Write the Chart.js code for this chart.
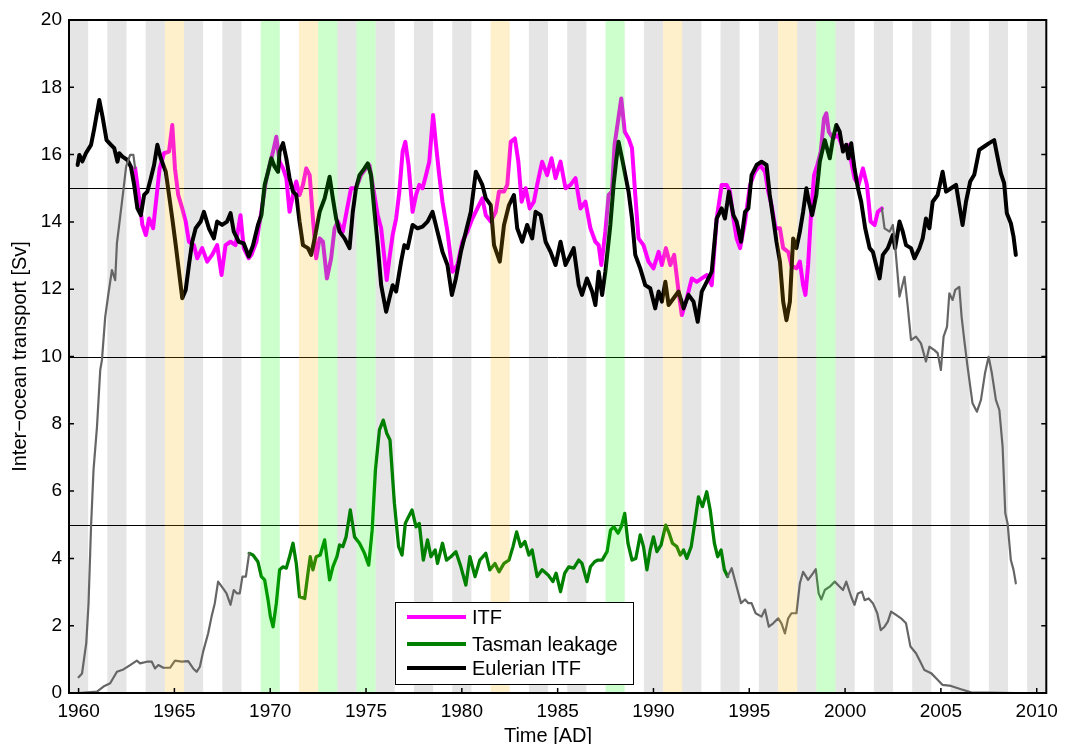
<!DOCTYPE html>
<html>
<head>
<meta charset="utf-8">
<title>Inter-ocean transport</title>
<script src="https://cdn.jsdelivr.net/npm/chart.js@4.4.1/dist/chart.umd.min.js"></script>
<style>
    html, body { margin: 0; padding: 0; background: #fff; }
    #wrap { width: 1065px; height: 744px; }
</style>
</head>
<body>
<div id="wrap"><canvas id="itfChart" width="1065" height="744"></canvas></div>
<script>
// Inter-ocean transport 1960-2009 (Sv)

// Axis ticks and reference lines
const xTicks = [1960, 1965, 1970, 1975, 1980, 1985, 1990, 1995, 2000, 2005, 2010];
const refLines = [5, 10, 15];

// Year shading
const grayYears = [1960, 1962, 1964, 1966, 1968, 1974, 1976, 1978, 1980, 1984, 1986, 1990, 1992, 1994, 1996, 1998, 2000, 2002, 2004, 2006, 2008, 2010];
const elNinoYears = [1965, 1972, 1982, 1991, 1997];
const laNinaYears = [1970, 1973, 1975, 1988, 1999];

// ITF (magenta), with gray spin-up / spin-down parts
const itfPreT = [1960.0, 1960.18, 1960.4, 1960.52, 1960.65, 1960.78, 1960.96, 1961.13, 1961.22, 1961.39, 1961.56, 1961.74, 1961.91, 1962.0, 1962.17, 1962.34, 1962.48, 1962.69, 1962.86, 1962.95];
const itfPreV = [0.47, 0.58, 1.48, 2.66, 4.94, 6.63, 7.91, 9.6, 9.9, 11.18, 11.88, 12.57, 12.27, 13.36, 14.15, 14.95, 15.64, 15.99, 15.99, 15.6];

const itfT = [1962.95, 1963.16, 1963.33, 1963.51, 1963.68, 1963.89, 1964.06, 1964.23, 1964.46, 1964.72, 1964.89, 1965.03, 1965.2, 1965.41, 1965.59, 1965.76, 1966.02, 1966.19, 1966.45, 1966.71, 1966.97, 1967.23, 1967.46, 1967.67, 1967.93, 1968.19, 1968.45, 1968.62, 1968.88,
    1969.02, 1969.28, 1969.54, 1969.77, 1969.97, 1970.15, 1970.32, 1970.49, 1970.67, 1970.84, 1971.01, 1971.19, 1971.36, 1971.53, 1971.71, 1971.88, 1972.06, 1972.23, 1972.4, 1972.58, 1972.75, 1972.96, 1973.18, 1973.36, 1973.53, 1973.79,
    1974.05, 1974.22, 1974.48, 1974.74, 1975.0, 1975.18, 1975.35, 1975.61, 1975.79, 1975.96, 1976.08, 1976.22, 1976.39, 1976.57, 1976.74, 1976.91, 1977.05, 1977.22, 1977.43, 1977.61, 1977.78, 1977.95, 1978.13, 1978.3, 1978.5, 1978.65, 1978.82, 1978.99,
    1979.25, 1979.51, 1979.77, 1980.03, 1980.29, 1980.55, 1980.81, 1981.07, 1981.25, 1981.51, 1981.77, 1981.94, 1982.2, 1982.37, 1982.55, 1982.77, 1982.95, 1983.12, 1983.33, 1983.54, 1983.76, 1983.93, 1984.19, 1984.45, 1984.68, 1984.89,
    1985.15, 1985.41, 1985.67, 1985.93, 1986.19, 1986.45, 1986.71, 1986.97, 1987.14, 1987.28, 1987.49, 1987.66, 1987.83, 1987.97, 1988.15, 1988.32, 1988.5, 1988.7, 1988.88, 1989.05, 1989.22, 1989.48, 1989.74,
    1990.0, 1990.27, 1990.44, 1990.65, 1990.88, 1991.08, 1991.31, 1991.48, 1991.74, 1992.0, 1992.26, 1992.52, 1992.78, 1993.04, 1993.3, 1993.56, 1993.82, 1993.99, 1994.17, 1994.34, 1994.52, 1994.78,
    1995.04, 1995.3, 1995.56, 1995.82, 1995.99, 1996.16, 1996.37, 1996.6, 1996.77, 1997.03, 1997.2, 1997.46, 1997.64, 1997.81, 1997.93, 1998.07, 1998.21, 1998.38, 1998.55, 1998.73, 1998.9,
    1999.02, 1999.15, 1999.37, 1999.63, 1999.89, 2000.12, 2000.32, 2000.49, 2000.7, 2000.93, 2001.14, 2001.33, 2001.54, 2001.71, 2001.92];
const itfV = [15.6, 14.7, 13.91, 13.61, 14.1, 13.81, 14.7, 15.59, 16.04, 16.09, 16.88, 15.59, 14.8, 14.4, 14.01, 13.41, 13.31, 12.92, 13.22, 12.82, 13.02, 13.31, 12.42, 13.31, 13.41, 13.31, 14.2, 13.22, 12.92,
    13.02, 13.41, 14.3, 15.2, 15.69, 16.09, 16.53, 15.79, 15.59, 15.3, 14.3, 14.8, 15.2, 14.8, 15.1, 15.59, 15.39, 14.1, 12.92, 13.51, 13.41, 12.32, 12.92, 13.81, 14.01, 13.71,
    14.5, 15.0, 15.0, 15.39, 15.59, 15.69, 15.1, 14.2, 13.81, 12.92, 12.27, 12.92, 13.61, 14.1, 14.9, 16.09, 16.38, 15.69, 14.3, 14.8, 15.1, 15.0, 15.39, 15.79, 17.18, 16.3, 15.39, 14.6,
    13.71, 12.52, 12.72, 13.41, 13.71, 14.1, 14.4, 14.7, 14.2, 14.01, 14.3, 14.9, 14.9, 15.1, 16.38, 16.48, 15.79, 14.6, 15.0, 14.4, 14.6, 15.1, 15.79, 15.39, 15.89, 15.3,
    15.79, 15.0, 15.1, 15.3, 14.4, 14.6, 13.81, 13.41, 13.31, 12.72, 13.71, 14.8, 14.9, 16.29, 17.0, 17.67, 16.68, 16.48, 16.19, 14.8, 13.51, 13.31, 12.82,
    12.62, 13.11, 12.72, 13.22, 12.72, 13.02, 11.93, 11.23, 11.73, 12.32, 12.22, 12.32, 12.42, 12.12, 14.1, 15.1, 15.1, 14.9, 14.1, 13.51, 13.22, 14.01,
    15.1, 15.49, 15.69, 15.49, 14.9, 14.5, 13.81, 13.81, 13.22, 13.11, 12.7, 12.62, 12.82, 12.12, 11.83, 12.72, 14.1, 15.39, 15.69, 16.09, 17.08,
    17.23, 16.68, 16.48, 16.58, 16.19, 16.29, 15.79, 15.3, 15.1, 15.59, 15.1, 14.01, 13.91, 14.3, 14.4];

const itfPostT = [2001.92, 2002.06, 2002.32, 2002.49, 2002.61, 2002.84, 2003.1, 2003.27, 2003.44, 2003.7, 2003.96, 2004.22, 2004.4, 2004.66, 2004.83, 2005.0, 2005.14, 2005.32, 2005.44, 2005.61, 2005.75, 2005.96,
    2006.08, 2006.22, 2006.39, 2006.65, 2006.88, 2007.09, 2007.3, 2007.49, 2007.66, 2007.87, 2008.05, 2008.22, 2008.36, 2008.48, 2008.65, 2008.79, 2008.91];
const itfPostV = [14.4, 13.81, 13.71, 13.91, 13.3, 11.78, 12.37, 11.48, 10.49, 10.59, 10.39, 9.85, 10.29, 10.19, 10.1, 9.6, 10.59, 10.89, 11.88, 11.68, 11.98, 12.07,
    11.18, 10.49, 9.7, 8.61, 8.36, 8.71, 9.5, 9.99, 9.5, 8.71, 8.41, 7.32, 5.34, 5.04, 3.95, 3.66, 3.26];

// Tasman leakage (green), with gray spin-up / spin-down parts
const tasPreT = [1960.0, 1960.96, 1961.3, 1961.65, 1962.0, 1962.34, 1962.69, 1963.04, 1963.21, 1963.56, 1963.82, 1963.99, 1964.16, 1964.42, 1964.77, 1965.03, 1965.38, 1965.72, 1965.98, 1966.16, 1966.33,
    1966.5, 1966.76, 1966.94, 1967.11, 1967.28, 1967.54, 1967.72, 1967.93, 1968.1, 1968.27, 1968.41, 1968.55, 1968.73, 1968.9];
const tasPreV = [0.0, 0.04, 0.19, 0.29, 0.63, 0.7, 0.83, 0.96, 0.88, 0.93, 0.93, 0.73, 0.83, 0.75, 0.75, 0.96, 0.93, 0.95, 0.73, 0.63, 0.78,
    1.23, 1.77, 2.27, 2.67, 3.31, 3.11, 2.96, 2.62, 3.06, 2.96, 2.96, 3.46, 3.46, 4.15];

const tasT = [1968.9, 1969.1, 1969.36, 1969.54, 1969.71, 1969.89, 1970.01, 1970.15, 1970.32, 1970.49, 1970.67, 1970.84, 1971.01, 1971.19, 1971.36, 1971.53, 1971.8, 1971.97, 1972.09, 1972.23, 1972.4, 1972.61, 1972.84,
    1973.1, 1973.27, 1973.48, 1973.62, 1973.79, 1973.96, 1974.18, 1974.4, 1974.66, 1974.92, 1975.14, 1975.32, 1975.49, 1975.7, 1975.9, 1976.08, 1976.25, 1976.48, 1976.7, 1976.88,
    1977.05, 1977.22, 1977.4, 1977.61, 1977.78, 1977.99, 1978.21, 1978.39, 1978.61, 1978.73, 1978.99, 1979.2, 1979.43, 1979.69, 1979.95, 1980.21, 1980.42, 1980.69, 1980.94,
    1981.25, 1981.46, 1981.73, 1981.94, 1982.2, 1982.46, 1982.67, 1982.86, 1983.07, 1983.29, 1983.5, 1983.67, 1983.93, 1984.19, 1984.5, 1984.75, 1984.92,
    1985.15, 1985.37, 1985.58, 1985.84, 1986.1, 1986.27, 1986.53, 1986.71, 1986.93, 1987.1, 1987.32, 1987.58, 1987.76, 1987.93, 1988.15, 1988.32, 1988.5, 1988.67, 1988.88,
    1989.08, 1989.31, 1989.48, 1989.66, 1989.83, 1990.0, 1990.18, 1990.4, 1990.64, 1990.82, 1990.99, 1991.22, 1991.4, 1991.57, 1991.74, 1991.97, 1992.18, 1992.35, 1992.56, 1992.78,
    1992.96, 1993.18, 1993.35, 1993.53, 1993.7, 1993.87];
const tasV = [4.15, 4.1, 3.9, 3.46, 3.36, 2.76, 2.27, 1.97, 2.67, 3.66, 3.75, 3.71, 4.05, 4.45, 3.85, 2.86, 2.81, 3.56, 4.05, 3.66, 4.05, 4.1, 4.55,
    3.36, 3.75, 4.05, 4.4, 4.35, 4.64, 5.44, 4.64, 4.45, 4.15, 3.8, 4.84, 6.63, 7.82, 8.11, 7.72, 7.52, 5.64, 4.35, 4.1,
    5.04, 5.24, 5.44, 4.94, 5.04, 3.95, 4.55, 4.05, 4.25, 3.85, 4.45, 3.95, 4.05, 4.2, 3.75, 3.21, 4.05, 3.46, 3.95,
    4.15, 3.66, 3.85, 3.6, 3.85, 3.95, 4.35, 4.79, 4.35, 4.5, 4.1, 4.25, 3.46, 3.66, 3.51, 3.31, 3.56,
    3.01, 3.56, 3.75, 3.71, 3.95, 3.85, 3.31, 3.75, 3.9, 3.95, 3.95, 4.2, 4.84, 4.94, 4.75, 4.94, 5.34, 4.45, 3.95,
    4.0, 4.7, 4.35, 3.66, 4.25, 4.64, 4.2, 4.4, 4.99, 4.75, 4.45, 4.35, 4.1, 4.25, 4.0, 4.35, 5.14, 5.83, 5.54, 5.98,
    5.44, 4.45, 4.05, 4.25, 3.66, 3.46];

const tasPostT = [1993.87, 1994.08, 1994.34, 1994.57, 1994.78, 1994.95, 1995.12, 1995.33, 1995.64, 1995.82, 1996.02, 1996.25, 1996.51, 1996.68, 1996.86, 1997.03, 1997.2, 1997.46, 1997.64, 1997.81,
    1998.07, 1998.33, 1998.47, 1998.62, 1998.76, 1998.94, 1999.2, 1999.46, 1999.72, 1999.89, 2000.06, 2000.32, 2000.49, 2000.67, 2000.88, 2001.02, 2001.23, 2001.45, 2001.68, 2001.86,
    2002.06, 2002.23, 2002.4, 2002.66, 2002.92, 2003.18, 2003.41, 2003.7, 2003.88, 2004.14, 2004.49, 2004.75, 2005.09, 2005.53, 2006.05, 2006.57, 2008.91];
const tasPostV = [3.46, 3.71, 3.16, 2.67, 2.78, 2.67, 2.67, 2.37, 2.27, 2.48, 1.97, 2.07, 2.22, 2.07, 1.77, 2.22, 2.37, 2.37, 3.26, 3.6,
    3.36, 3.56, 3.68, 2.96, 2.78, 3.06, 3.16, 3.31, 3.16, 3.06, 3.31, 2.86, 2.62, 2.96, 3.01, 2.76, 2.81, 2.67, 2.37, 1.87,
    1.97, 2.12, 2.42, 2.32, 2.22, 2.07, 1.38, 1.18, 0.98, 0.68, 0.59, 0.44, 0.24, 0.21, 0.11, 0.02, 0.0];

// Eulerian ITF (black)
const eulT = [1959.95, 1960.04, 1960.2, 1960.38, 1960.65, 1960.82, 1961.08, 1961.25, 1961.46, 1961.69, 1961.86, 1962.03, 1962.12, 1962.29, 1962.55, 1962.73, 1962.9,
    1963.07, 1963.25, 1963.42, 1963.59, 1963.77, 1963.94, 1964.11, 1964.29, 1964.55, 1964.72, 1964.89, 1965.07, 1965.24, 1965.41, 1965.59, 1965.76, 1965.93,
    1966.11, 1966.37, 1966.54, 1966.8, 1967.06, 1967.23, 1967.49, 1967.75, 1967.93, 1968.1, 1968.36, 1968.62, 1968.88, 1969.1, 1969.36, 1969.54, 1969.71, 1969.89,
    1970.06, 1970.23, 1970.41, 1970.49, 1970.67, 1970.84, 1971.01, 1971.19, 1971.36, 1971.53, 1971.71, 1971.97, 1972.14, 1972.32, 1972.58, 1972.84,
    1973.1, 1973.27, 1973.44, 1973.62, 1973.88, 1974.14, 1974.31, 1974.48, 1974.66, 1974.92, 1975.09, 1975.26, 1975.44, 1975.61, 1975.79,
    1976.05, 1976.22, 1976.39, 1976.57, 1976.83, 1977.0, 1977.17, 1977.43, 1977.69, 1977.95, 1978.21, 1978.47, 1978.73, 1978.99,
    1979.25, 1979.48, 1979.69, 1979.95, 1980.21, 1980.47, 1980.73, 1980.9, 1981.07, 1981.25, 1981.51, 1981.68, 1981.98, 1982.2, 1982.46, 1982.72, 1982.89,
    1983.15, 1983.41, 1983.67, 1983.85, 1984.11, 1984.37, 1984.63, 1984.89, 1985.15, 1985.41, 1985.67, 1985.84, 1986.1, 1986.27, 1986.53, 1986.8, 1986.97,
    1987.14, 1987.32, 1987.49, 1987.75, 1987.92, 1988.05, 1988.18, 1988.36, 1988.53, 1988.7, 1988.88, 1989.05, 1989.31, 1989.57, 1989.83,
    1990.09, 1990.27, 1990.44, 1990.62, 1990.79, 1991.05, 1991.31, 1991.57, 1991.83, 1992.09, 1992.31, 1992.52, 1992.78, 1993.04, 1993.3, 1993.56, 1993.73, 1993.94,
    1994.17, 1994.34, 1994.57, 1994.78, 1994.95, 1995.12, 1995.38, 1995.64, 1995.9, 1996.07, 1996.25, 1996.42, 1996.6, 1996.77, 1996.94,
    1997.12, 1997.29, 1997.46, 1997.64, 1997.81, 1997.98, 1998.11, 1998.28, 1998.5, 1998.68, 1998.94, 1999.2, 1999.37, 1999.54, 1999.72, 1999.89,
    2000.06, 2000.18, 2000.32, 2000.49, 2000.67, 2000.84, 2001.05, 2001.28, 2001.45, 2001.62, 2001.8, 2001.97, 2002.23, 2002.49, 2002.61, 2002.84,
    2003.01, 2003.18, 2003.44, 2003.62, 2003.88, 2004.05, 2004.22, 2004.4, 2004.57, 2004.83, 2005.09, 2005.27, 2005.53, 2005.79, 2005.96,
    2006.13, 2006.31, 2006.53, 2006.74, 2007.0, 2007.26, 2007.52, 2007.78, 2007.95, 2008.13, 2008.3, 2008.44, 2008.65, 2008.79, 2008.91];
const eulV = [15.69, 15.99, 15.8, 16.04, 16.29, 16.78, 17.62, 17.13, 16.43, 16.29, 16.19, 15.79, 16.04, 15.94, 15.84, 15.64, 15.1,
    14.4, 14.2, 14.8, 14.9, 15.3, 15.69, 16.29, 15.89, 15.49, 14.8, 14.1, 13.31, 12.52, 11.73, 11.98, 12.72, 13.41,
    13.81, 14.01, 14.3, 13.81, 13.51, 14.01, 13.91, 14.01, 14.26, 13.71, 13.41, 13.36, 12.97, 13.3, 13.91, 14.2, 15.1, 15.49,
    15.89, 15.64, 15.49, 16.09, 16.34, 15.89, 15.3, 14.9, 14.8, 14.01, 13.31, 13.22, 13.02, 13.51, 14.3, 14.7,
    15.34, 14.7, 14.1, 13.71, 13.51, 13.22, 14.3, 15.0, 15.39, 15.59, 15.74, 15.39, 14.3, 13.31, 12.12,
    11.33, 11.73, 12.12, 11.93, 12.82, 13.31, 13.22, 13.91, 13.81, 13.86, 14.01, 14.3, 13.71, 13.11,
    12.72, 11.83, 12.32, 13.11, 13.71, 14.3, 15.49, 15.3, 15.1, 14.7, 14.5, 13.31, 12.82, 13.91, 14.5, 14.8, 13.81,
    13.41, 13.91, 13.51, 14.3, 14.2, 13.41, 13.11, 12.72, 13.41, 12.72, 13.02, 13.22, 12.12, 11.83, 12.32, 11.93, 11.53,
    12.52, 11.83, 12.52, 13.91, 15.1, 15.79, 16.38, 15.89, 15.39, 14.9, 14.1, 13.02, 12.62, 12.12, 12.03,
    11.43, 11.93, 11.63, 12.22, 11.53, 11.73, 11.93, 11.43, 11.83, 11.63, 11.03, 11.93, 12.22, 12.52, 14.1, 14.4, 14.1, 14.9,
    14.2, 14.01, 13.41, 14.3, 14.4, 15.39, 15.69, 15.79, 15.69, 14.8, 14.1, 13.41, 12.82, 11.63, 11.08,
    11.63, 13.51, 13.22, 13.71, 14.3, 15.0, 14.6, 14.2, 14.8, 15.79, 16.43, 15.89, 16.48, 16.88, 16.68, 16.09,
    16.29, 15.89, 16.34, 15.59, 15.0, 14.6, 13.81, 13.22, 13.11, 12.72, 12.32, 13.02, 13.22, 13.61, 13.22, 14.01,
    13.71, 13.31, 13.22, 12.92, 13.22, 13.51, 14.1, 13.81, 14.6, 14.8, 15.49, 14.9, 15.0, 15.1, 14.5,
    13.91, 14.6, 15.2, 15.4, 16.14, 16.24, 16.34, 16.43, 15.94, 15.44, 15.15, 14.26, 13.96, 13.56, 13.02];

// Legend entries
const legendLabels = ['ITF', 'Tasman leakage', 'Eulerian ITF'];
const legendColors = ['#ff00ff', '#008000', '#000000'];

const FONT = '"Liberation Sans", Arial, Helvetica, sans-serif';

function pts(ts, vs) {
    return ts.map((t, i) => ({ x: t, y: vs[i] }));
}

function series(label, ts, vs, color, width, order) {
    return {
        label: label,
        data: pts(ts, vs),
        borderColor: color,
        backgroundColor: color,
        borderWidth: width,
        pointRadius: 0,
        tension: 0,
        borderJoinStyle: 'round',
        borderCapStyle: 'round',
        order: order
    };
}

// Shaded years, reference lines, inward ticks, box and legend
const decorPlugin = {
    id: 'decor',
    beforeDatasetsDraw(chart) {
        const { ctx, chartArea: a, scales: { x, y } } = chart;
        ctx.save();
        ctx.beginPath();
        ctx.rect(a.left, a.top, a.width, a.height);
        ctx.clip();
        ctx.fillStyle = '#e5e5e5';
        grayYears.forEach(yr => {
            const x0 = x.getPixelForValue(yr - 0.5);
            const x1 = x.getPixelForValue(yr + 0.5);
            ctx.fillRect(x0, a.top, x1 - x0, a.height);
        });
        ctx.strokeStyle = '#000';
        ctx.lineWidth = 1;
        refLines.forEach(v => {
            const py = Math.round(y.getPixelForValue(v)) + 0.5;
            ctx.beginPath();
            ctx.moveTo(a.left, py);
            ctx.lineTo(a.right, py);
            ctx.stroke();
        });
        ctx.restore();
    },
    afterDatasetsDraw(chart) {
        const { ctx, chartArea: a, scales: { x, y } } = chart;
        ctx.save();
        // ENSO years lie over the lines, semi-transparent
        const band = (years, color) => {
            ctx.fillStyle = color;
            years.forEach(yr => {
                const x0 = x.getPixelForValue(yr - 0.5);
                const x1 = x.getPixelForValue(yr + 0.5);
                ctx.fillRect(x0, a.top, x1 - x0, a.height);
            });
        };
        band(elNinoYears, 'rgba(255, 180, 0, 0.2)');
        band(laNinaYears, 'rgba(0, 255, 0, 0.2)');

        // inward ticks
        ctx.strokeStyle = '#000';
        ctx.lineWidth = 1.5;
        y.ticks.forEach(t => {
            const py = y.getPixelForValue(t.value);
            ctx.beginPath();
            ctx.moveTo(a.left, py); ctx.lineTo(a.left + 5, py);
            ctx.moveTo(a.right, py); ctx.lineTo(a.right - 5, py);
            ctx.stroke();
        });
        x.ticks.forEach(t => {
            const px = x.getPixelForValue(t.value);
            ctx.beginPath();
            ctx.moveTo(px, a.bottom); ctx.lineTo(px, a.bottom - 5);
            ctx.stroke();
        });

        // axes box
        ctx.lineWidth = 2;
        ctx.strokeRect(a.left, a.top, a.width, a.height);

        // legend
        const lx = a.left + 326, ly = a.top + 582, lw = 238, lh = 82;
        ctx.fillStyle = '#fff';
        ctx.fillRect(lx, ly, lw, lh);
        ctx.lineWidth = 1;
        ctx.strokeRect(lx + 0.5, ly + 0.5, lw, lh);
        const rows = [15, 42, 66];
        ctx.font = '20px ' + FONT;
        ctx.textBaseline = 'middle';
        ctx.textAlign = 'left';
        legendLabels.forEach((lab, i) => {
            const ry = ly + rows[i];
            ctx.strokeStyle = legendColors[i];
            ctx.lineWidth = 4;
            ctx.beginPath();
            ctx.moveTo(lx + 12, ry);
            ctx.lineTo(lx + 71, ry);
            ctx.stroke();
            ctx.fillStyle = '#000';
            ctx.fillText(lab, lx + 77, ry + 1);
        });

        // x axis title
        ctx.textAlign = 'center';
        ctx.textBaseline = 'alphabetic';
        ctx.fillText('Time [AD]', 548, 742);
        ctx.restore();
    }
};

Chart.defaults.font.family = FONT;
Chart.defaults.color = '#000';

const ctx = document.getElementById('itfChart');
new Chart(ctx, {
    type: 'line',
    data: {
        datasets: [
            series('ITF start', itfPreT, itfPreV, '#666666', 2.2, 0),
            series('ITF end', itfPostT, itfPostV, '#666666', 2.2, 0),
            series('Tasman start', tasPreT, tasPreV, '#666666', 2.2, 0),
            series('Tasman end', tasPostT, tasPostV, '#666666', 2.2, 0),
            series('Eulerian ITF', eulT, eulV, '#000000', 4, 1),
            series('Tasman leakage', tasT, tasV, '#008000', 3.3, 2),
            series('ITF', itfT, itfV, '#ff00ff', 4, 3)
        ]
    },
    options: {
        responsive: false,
        animation: false,
        layout: { padding: { left: 0, top: 20, right: 15, bottom: 0 } },
        plugins: {
            legend: { display: false },
            tooltip: { enabled: false }
        },
        scales: {
            x: {
                type: 'linear',
                min: 1959.5,
                max: 2010.5,
                afterBuildTicks: scale => { scale.ticks = xTicks.map(v => ({ value: v })); },
                afterFit: scale => { scale.height = 51; },
                grid: { display: false, drawTicks: false },
                border: { display: false },
                ticks: {
                    autoSkip: false,
                    maxRotation: 0,
                    padding: 7,
                    font: { size: 19 },
                    callback: v => String(v)
                }
            },
            y: {
                min: 0,
                max: 20,
                afterFit: scale => { scale.width = 69; },
                grid: { display: false, drawTicks: false },
                border: { display: false },
                ticks: {
                    stepSize: 2,
                    padding: 7,
                    font: { size: 19 },
                    callback: v => String(v)
                },
                title: {
                    display: true,
                    text: 'Inter\u2212ocean transport [Sv]',
                    font: { size: 20 },
                    padding: { top: 8, bottom: 0 }
                }
            }
        }
    },
    plugins: [decorPlugin]
});
</script>
</body>
</html>
